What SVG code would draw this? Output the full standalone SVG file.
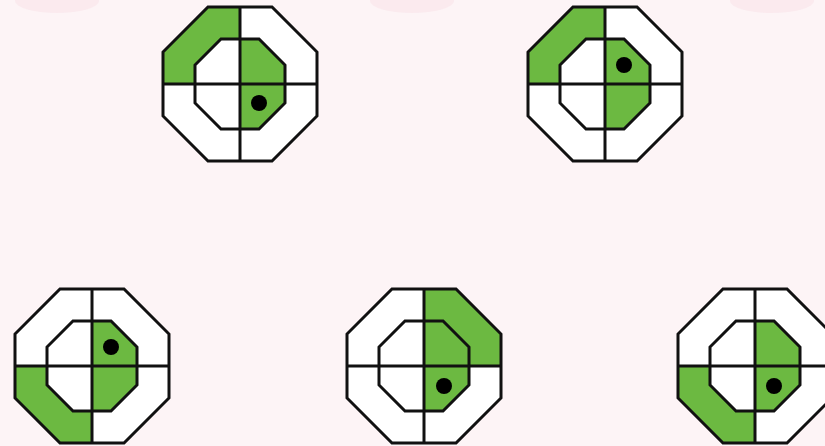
<svg xmlns="http://www.w3.org/2000/svg" xmlns:xlink="http://www.w3.org/1999/xlink" width="825" height="446" viewBox="0 0 825 446">
  <style>
    .bg { fill: #fdf4f6; }
    .blob { fill: #f8dde3; opacity: 0.4; }
    .base { fill: #ffffff; stroke: none; }
    .g { fill: #6cb941; stroke: none; }
    .ln { fill: none; stroke: #111111; stroke-width: 3; stroke-linejoin: miter; }
    .dot { fill: #000000; }
  </style>
  <defs>
    <polygon id="outerFill" class="base" points="-32,-77 32,-77 77,-32 77,32 32,77 -32,77 -77,32 -77,-32"/>
    <polygon id="ringTL" class="g" points="0,-77 -32,-77 -77,-32 -77,0 -45,0 -45,-19 -19,-45 0,-45"/>
    <polygon id="ringTR" class="g" points="0,-77 32,-77 77,-32 77,0 45,0 45,-19 19,-45 0,-45"/>
    <polygon id="ringBL" class="g" points="0,77 -32,77 -77,32 -77,0 -45,0 -45,19 -19,45 0,45"/>
    <polygon id="innerTR" class="g" points="0,0 0,-45 19,-45 45,-19 45,0"/>
    <polygon id="innerBR" class="g" points="0,0 0,45 19,45 45,19 45,0"/>
    <g id="frame" class="ln">
      <polygon points="-32,-77 32,-77 77,-32 77,32 32,77 -32,77 -77,32 -77,-32"/>
      <polygon points="-19,-45 19,-45 45,-19 45,19 19,45 -19,45 -45,19 -45,-19"/>
      <line x1="0" y1="-77" x2="0" y2="77"/>
      <line x1="-77" y1="0" x2="77" y2="0"/>
    </g>
  </defs>
  <rect class="bg" x="0" y="0" width="825" height="446"/>
  <ellipse class="blob" cx="57" cy="1" rx="42" ry="12"/>
  <ellipse class="blob" cx="412" cy="1" rx="42" ry="12"/>
  <ellipse class="blob" cx="772" cy="1" rx="42" ry="12"/>

  <g id="figure1" transform="translate(240,84)">
    <use xlink:href="#outerFill"/>
    <use xlink:href="#ringTL"/>
    <use xlink:href="#innerTR"/>
    <use xlink:href="#innerBR"/>
    <use xlink:href="#frame"/>
    <circle class="dot" cx="19" cy="19" r="8"/>
  </g>
  <g id="figure2" transform="translate(605,84)">
    <use xlink:href="#outerFill"/>
    <use xlink:href="#ringTL"/>
    <use xlink:href="#innerTR"/>
    <use xlink:href="#innerBR"/>
    <use xlink:href="#frame"/>
    <circle class="dot" cx="19" cy="-19" r="8"/>
  </g>
  <g id="figure3" transform="translate(92,366)">
    <use xlink:href="#outerFill"/>
    <use xlink:href="#ringBL"/>
    <use xlink:href="#innerTR"/>
    <use xlink:href="#innerBR"/>
    <use xlink:href="#frame"/>
    <circle class="dot" cx="19" cy="-19" r="8"/>
  </g>
  <g id="figure4" transform="translate(424,366)">
    <use xlink:href="#outerFill"/>
    <use xlink:href="#ringTR"/>
    <use xlink:href="#innerTR"/>
    <use xlink:href="#innerBR"/>
    <use xlink:href="#frame"/>
    <circle class="dot" cx="20" cy="20" r="8"/>
  </g>
  <g id="figure5" transform="translate(755,366)">
    <use xlink:href="#outerFill"/>
    <use xlink:href="#ringBL"/>
    <use xlink:href="#innerTR"/>
    <use xlink:href="#innerBR"/>
    <use xlink:href="#frame"/>
    <circle class="dot" cx="19" cy="20" r="8"/>
  </g>
</svg>
